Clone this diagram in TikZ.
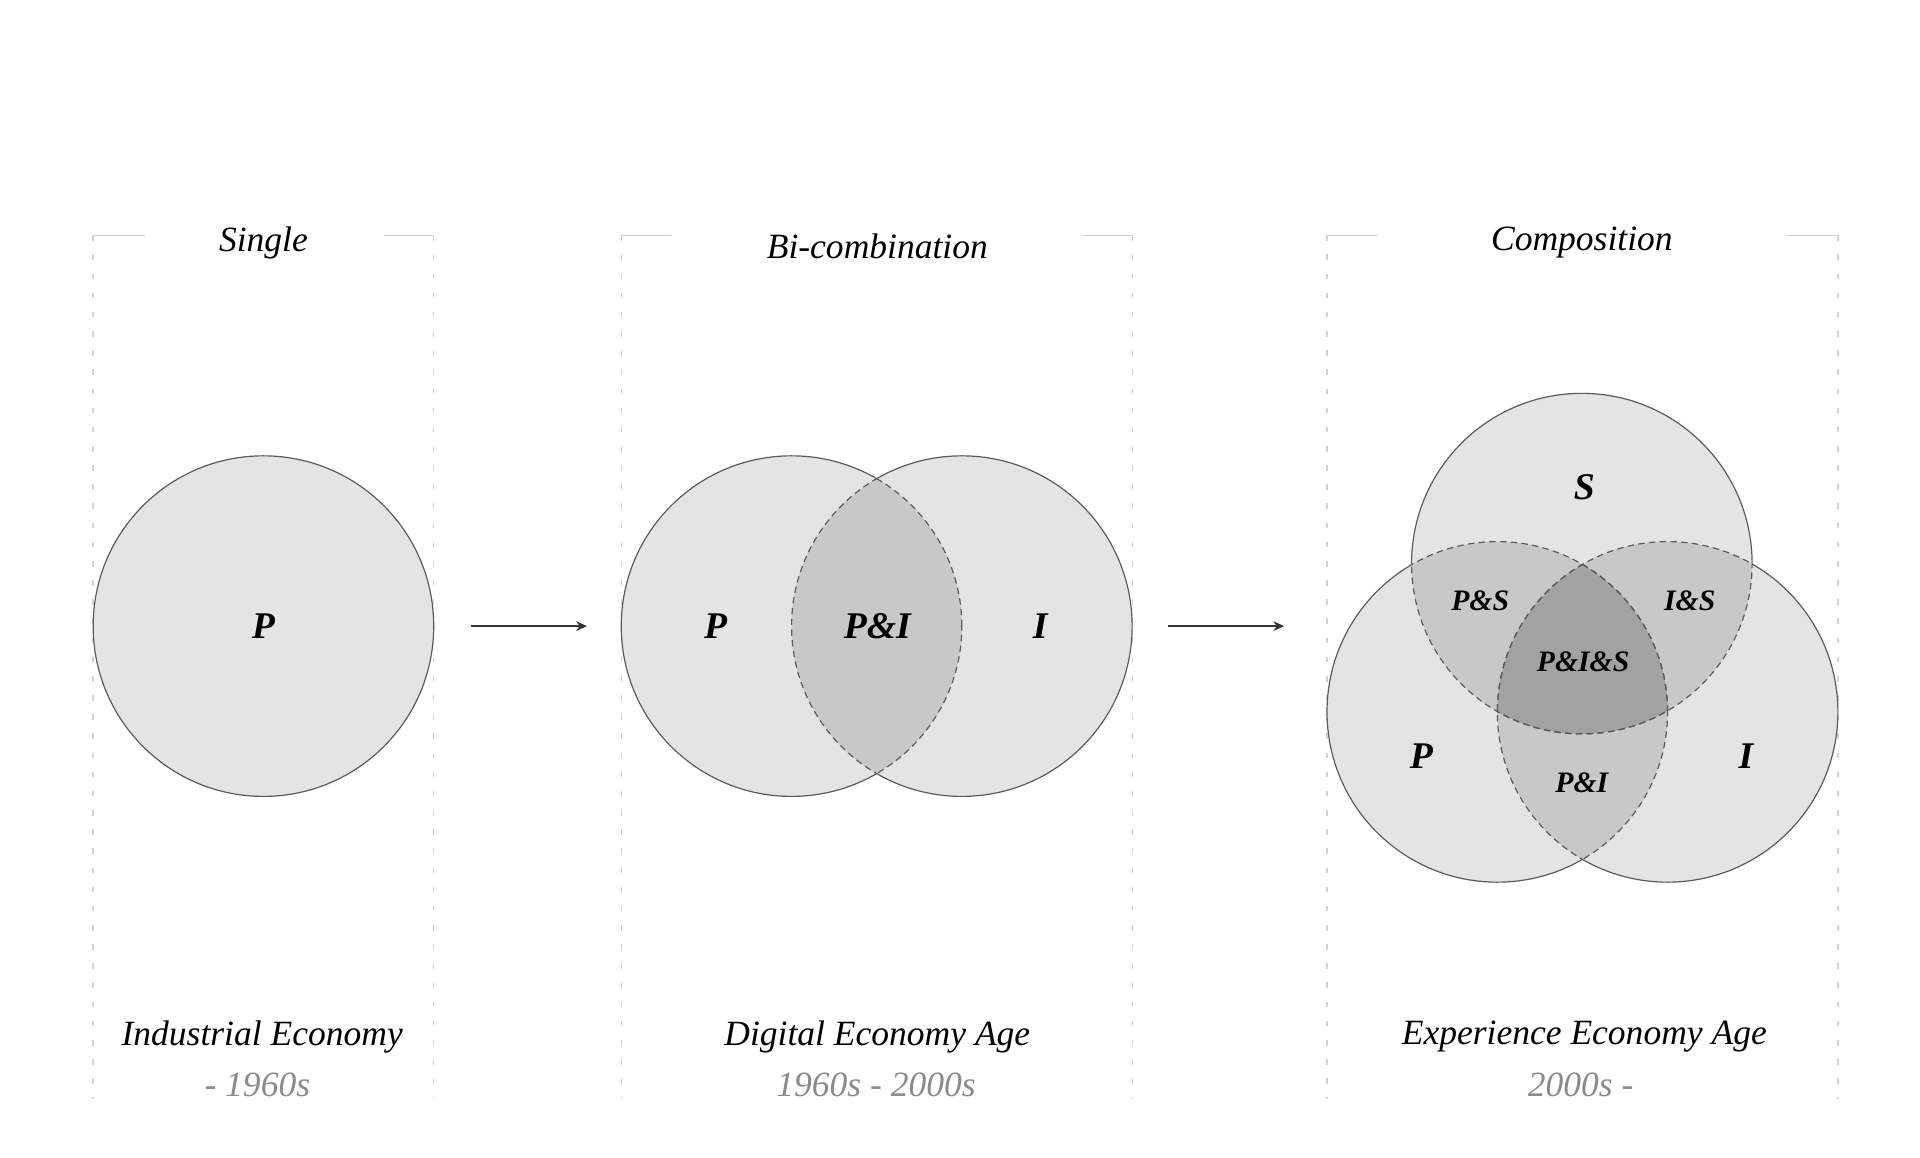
\documentclass[tikz,border=0pt]{standalone}
\usepackage{fontspec}
\setmainfont{Liberation Serif}
\usetikzlibrary{arrows.meta,positioning}

\definecolor{basefill}{HTML}{E4E4E4}
\definecolor{pairfill}{HTML}{C8C8C8}
\definecolor{triplefill}{HTML}{A2A2A2}
\definecolor{rim}{HTML}{5A5A5A}
\definecolor{framegray}{HTML}{D2D2D2}
\definecolor{years}{HTML}{8A8A8A}

\tikzset{
  titletext/.style={font=\fontsize{16.5}{20}\selectfont\itshape},
  era/.style={font=\fontsize{16.5}{20}\selectfont\itshape},
  yrs/.style={font=\fontsize{16.5}{20}\selectfont\itshape, text=years},
  biglabel/.style={font=\fontsize{17.5}{20}\selectfont\bfseries\itshape},
  smalllabel/.style={font=\fontsize{13.8}{16}\selectfont\bfseries\itshape},
  rimline/.style={draw=rim, line width=0.55pt},
  lensline/.style={draw=rim, line width=0.55pt, dash pattern=on 3pt off 2pt},
  sideline/.style={draw=framegray, line width=0.6pt, dash pattern=on 2.6pt off 6.3pt},
  topline/.style={draw=framegray, line width=0.6pt},
}
\def\R{2.78cm}

\begin{document}
\begin{tikzpicture}[x=0.02cm, y=-0.02cm, >={Stealth[length=5pt,width=4.5pt]}]
  \useasboundingbox (0,0) rectangle (1567,945);

  % frames
  \draw[sideline] (76,192) -- (76,897);   \draw[sideline] (354,192) -- (354,897);
  \draw[sideline] (507,192) -- (507,897); \draw[sideline] (924,192) -- (924,897);
  \draw[sideline] (1083,192) -- (1083,897); \draw[sideline] (1500,192) -- (1500,897);
  \draw[topline] (76,192) -- (118,192);   \draw[topline] (313,192) -- (354,192);
  \draw[topline] (507,192) -- (548,192);  \draw[topline] (883,192) -- (924,192);
  \draw[topline] (1083,192) -- (1125,192); \draw[topline] (1458,192) -- (1500,192);

  \node[titletext] (t1) at (215,198) {Single};
  \node[titletext] (t2) at (716,201) {Bi-combination};
  \node[titletext] (t3) at (1291,198) {Composition};

  % single
  \coordinate (c1) at (215,511);
  \fill[basefill] (c1) circle[radius=\R];
  \draw[rimline] (c1) circle[radius=\R];
  \node[biglabel] (p1) at (c1) {P};

  % bi-combination
  \coordinate (cP2) at (646,511);
  \coordinate (cI2) at (785,511);
  \fill[basefill] (cP2) circle[radius=\R] (cI2) circle[radius=\R];
  \begin{scope}
    \clip (cP2) circle[radius=\R];
    \fill[pairfill] (cI2) circle[radius=\R];
    \draw[lensline] (cI2) circle[radius=\R];
  \end{scope}
  \begin{scope}
    \clip (cI2) circle[radius=\R];
    \draw[lensline] (cP2) circle[radius=\R];
  \end{scope}
  \begin{scope}[even odd rule]
    \clip (0,0) rectangle (1567,945) (cI2) circle[radius=\R];
    \draw[rimline] (cP2) circle[radius=\R];
  \end{scope}
  \begin{scope}[even odd rule]
    \clip (0,0) rectangle (1567,945) (cP2) circle[radius=\R];
    \draw[rimline] (cI2) circle[radius=\R];
  \end{scope}
  \node[biglabel] (p2) at (584,511) {P};
  \node[biglabel] (pi2) at (716,511) {P\&I};
  \node[biglabel] (i2) at (849,511) {I};

  % composition
  \coordinate (cS) at (1291,460);
  \coordinate (cP) at (1222,581);
  \coordinate (cI) at (1361,581);
  \fill[basefill] (cS) circle[radius=\R] (cP) circle[radius=\R] (cI) circle[radius=\R];
  \foreach \a/\b in {cP/cS, cI/cS, cP/cI} {
    \begin{scope}
      \clip (\a) circle[radius=\R];
      \fill[pairfill] (\b) circle[radius=\R];
    \end{scope}
  }
  \begin{scope}
    \clip (cP) circle[radius=\R];
    \clip (cI) circle[radius=\R];
    \fill[triplefill] (cS) circle[radius=\R];
  \end{scope}
  \foreach \a/\b/\c in {cS/cP/cI, cP/cS/cI, cI/cS/cP} {
    \begin{scope}[even odd rule]
      \clip (0,0) rectangle (1567,945) (\b) circle[radius=\R];
      \clip (0,0) rectangle (1567,945) (\c) circle[radius=\R];
      \draw[rimline] (\a) circle[radius=\R];
    \end{scope}
    \begin{scope}
      \clip (\b) circle[radius=\R];
      \draw[lensline] (\a) circle[radius=\R];
    \end{scope}
    \begin{scope}
      \clip (\c) circle[radius=\R];
      \draw[lensline] (\a) circle[radius=\R];
    \end{scope}
  }
  \node[biglabel] (s3) at (1293,398) {S};
  \node[smalllabel] (ps3) at (1208,490) {P\&S};
  \node[smalllabel] (is3) at (1379,490) {I\&S};
  \node[smalllabel] (pis3) at (1292,540) {P\&I\&S};
  \node[biglabel] (p3) at (1160,617) {P};
  \node[biglabel] (i3) at (1425,617) {I};
  \node[smalllabel] (pi3) at (1291,639) {P\&I};

  % arrows
  \coordinate (a1) at (384,511); \coordinate (b1) at (479,511);
  \coordinate (a2) at (953,511); \coordinate (b2) at (1048,511);
  \draw[->, draw=black!80, line width=0.6pt] (a1) -- (b1);
  \draw[->, draw=black!80, line width=0.6pt] (a2) -- (b2);

  % eras
  \node[era] (e1) at (214,846) {Industrial Economy};
  \node[yrs] (y1) at (210,885) {- 1960s};
  \node[era] (e2) at (716,846) {Digital Economy Age};
  \node[yrs] (y2) at (715,885) {1960s - 2000s};
  \node[era] (e3) at (1293,846) {Experience Economy Age};
  \node[yrs] (y3) at (1290,885) {2000s -};
\end{tikzpicture}
\end{document}
